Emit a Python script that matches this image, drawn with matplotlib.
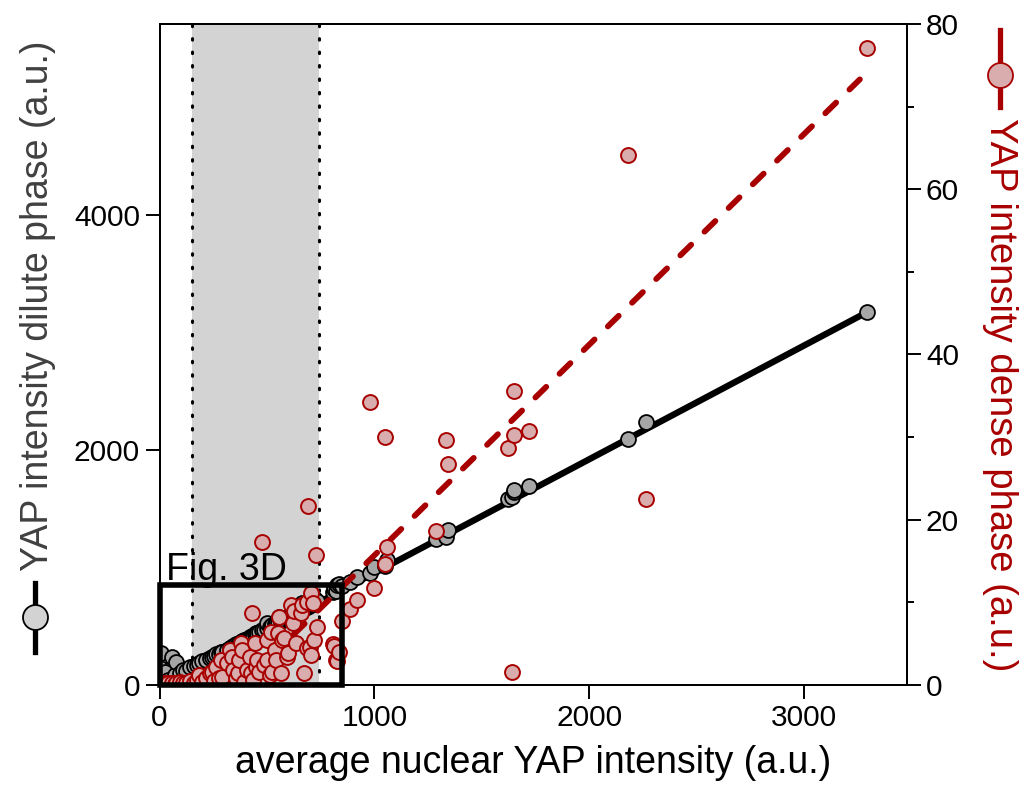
import matplotlib

matplotlib.use("Agg", force=True)
import matplotlib.pyplot as plt
from matplotlib.lines import Line2D
from matplotlib.patches import Rectangle
from matplotlib.ticker import MultipleLocator

plt.rcParams["font.family"] = ["Liberation Sans", "DejaVu Sans"]

# per-cell values: nuclear intensity, dilute phase (left axis), dense phase (right axis)
cell_x = [
    0, 5, 8, 15, 25, 40, 60, 70, 79, 95,
    107, 125, 140, 160, 175, 186, 200, 215, 233, 242,
    255, 265, 279, 288, 293, 312, 326, 335, 340, 358,
    365, 372, 381, 386, 395, 405, 419, 425, 428, 433,
    445, 451, 455, 465, 479, 488, 498, 502, 512, 521,
    525, 535, 544, 550, 558, 565, 572, 580, 591, 600,
    614, 619, 628, 637, 660, 665, 674, 684, 688, 693,
    700, 705, 707, 712, 721, 726, 733, 805, 814, 819,
    828, 833, 847, 888, 921, 980, 1000, 1047, 1051, 1060,
    1284, 1335, 1344, 1623, 1642, 1647, 1651, 1721, 2181, 2265,
    3293,
]
dilute = [
    145, 90, 272, 60, 110, 40, 238, 85, 196, 105,
    128, 120, 153, 160, 172, 187, 200, 212, 230, 238,
    248, 262, 268, 280, 285, 300, 312, 325, 330, 345,
    352, 360, 368, 375, 382, 392, 405, 410, 415, 420,
    430, 442, 445, 450, 465, 472, 482, 528, 495, 505,
    508, 518, 525, 532, 579, 548, 555, 562, 572, 582,
    595, 638, 608, 618, 640, 698, 652, 662, 668, 672,
    680, 684, 688, 692, 740, 705, 712, 790, 817, 800,
    851, 860, 840, 877, 919, 953, 1004, 1010, 1030, 1064,
    1243, 1260, 1319, 1583, 1600, 1640, 1660, 1694, 2094, 2238,
    3174,
]
dense = [
    0.2, 0.1, 0.3, 0.1, 0.2, 0.3, 0.2, 0.1, 0.2, 0.4,
    0.3, 0.2, 0.5, 0.3, 0.6, 1.2, 0.4, 0.8, 1.4, 1.6,
    0.5, 2.2, 0.9, 3.0, 1.0, 2.7, 4.2, 3.4, 1.8, 0.8,
    1.4, 3.0, 5.1, 4.2, 0.4, 1.8, 3.4, 1.4, 8.7, 0.6,
    5.1, 2.2, 3.0, 1.6, 17.3, 2.4, 3.0, 5.4, 1.2, 6.4,
    1.6, 4.2, 3.0, 6.3, 8.2, 1.5, 5.4, 5.7, 3.4, 3.9,
    9.7, 7.5, 9.0, 5.1, 8.7, 9.7, 1.5, 4.5, 10.0, 21.7,
    4.6, 11.1, 3.6, 9.9, 5.4, 15.7, 7.0, 5.0, 4.7, 3.0,
    2.9, 4.0, 7.7, 9.2, 10.3, 34.3, 11.7, 30.0, 14.6, 16.7,
    18.6, 29.7, 26.8, 28.7, 1.6, 30.3, 35.6, 30.8, 64.2, 22.5,
    77.1,
]

# linear fits
fit_x = [0, 3293]
dilute_fit = [-15, 3174]
dense_fit_x = [400, 3258]
dense_fit = [0.4, 73.3]

window = (153, 740)      # shaded intensity window
inset_box = 850          # Fig. 3D region

GRAY = "#a6a6a6"
RED_FILL = "#d9adad"
RED = "#a80000"

fig = plt.figure(figsize=(10.24, 7.93), dpi=100)
ax = fig.add_axes([159.5 / 1024, 108 / 793, 747 / 1024, 661 / 793])
ax2 = ax.twinx()

ax.axvspan(*window, color="#d3d3d3", lw=0, zorder=0)
for xv in window:
    ax.axvline(xv, color="black", lw=2.2, linestyle=(0, (0.5, 3.9)),
               dash_capstyle="round", zorder=1)

ax.plot(fit_x, dilute_fit, color="black", lw=4.6, zorder=2)
ax.scatter(cell_x, dilute, s=115, c=GRAY, edgecolors="black", linewidths=1.3, zorder=3)

ax2.plot(dense_fit_x, dense_fit, color=RED, lw=4.2, dashes=(2.6, 3.2),
         dash_capstyle="round", zorder=2)
ax2.scatter(cell_x, dense, s=115, c=RED_FILL, edgecolors=RED, linewidths=1.4, zorder=3)

rect = Rectangle((0, 0), inset_box, inset_box, fill=False, lw=4.0, ec="black",
                 transform=ax.transData, clip_on=False, zorder=5)
ax2.add_patch(rect)
ax2.text(30, 894, "Fig. 3D", transform=ax.transData, fontsize=27,
         va="baseline", ha="left", zorder=6)

ax.set_xlim(0, 3475)
ax.set_ylim(0, 5625)
ax2.set_ylim(0, 80)

ax.set_xticks([0, 1000, 2000, 3000])
ax.set_yticks([0, 2000, 4000])
ax2.set_yticks([0, 20, 40, 60, 80])
ax2.yaxis.set_minor_locator(MultipleLocator(10))

for a in (ax, ax2):
    for sp in a.spines.values():
        sp.set_linewidth(1.4)
    a.tick_params(which="major", direction="out", length=10, width=1.4, labelsize=21.5, pad=4)
    a.tick_params(which="minor", direction="out", length=5, width=1.4)

ax.set_xlabel("average nuclear YAP intensity (a.u.)", fontsize=27, labelpad=9)

fig.text(38 / 1024, 1 - 306 / 793, "YAP intensity dilute phase (a.u.)", rotation=90,
         ha="center", va="center", fontsize=27, color="#404040")
fig.text(1000 / 1024, 1 - 395 / 793, "YAP intensity dense phase (a.u.)", rotation=270,
         ha="center", va="center", fontsize=27.5, color=RED)

# legend-like symbols next to the axis titles
fig.add_artist(Line2D([35 / 1024] * 2, [1 - 583 / 793, 1 - 652 / 793],
                      transform=fig.transFigure, color="black", lw=3.8))
fig.add_artist(Line2D([35 / 1024], [1 - 617 / 793], transform=fig.transFigure,
                      marker="o", ms=18, mfc="#d3d3d3", mec="black", mew=1.3, lw=0))
fig.add_artist(Line2D([1000 / 1024] * 2, [1 - 30 / 793, 1 - 107 / 793],
                      transform=fig.transFigure, color=RED, lw=3.8))
fig.add_artist(Line2D([1000 / 1024], [1 - 75 / 793], transform=fig.transFigure,
                      marker="o", ms=18, mfc=RED_FILL, mec=RED, mew=1.3, lw=0))

fig.savefig("out.png", dpi=100)
